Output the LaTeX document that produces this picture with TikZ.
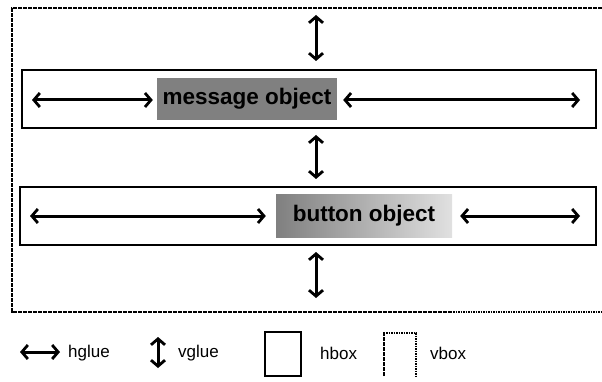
\documentclass[tikz,border=0pt]{standalone}
\usepackage{fontspec}
\setmainfont{Liberation Sans}
\usetikzlibrary{arrows.meta}
\begin{document}
\begin{tikzpicture}[x=1pt,y=-1pt,
  glue/.style={line width=3pt,{Straight Barb[length=6pt,width=14pt,line width=2.8pt]}-{Straight Barb[length=6pt,width=14pt,line width=2.8pt]}},
  hboxs/.style={draw,line width=1.1pt},
  vboxs/.style={draw,line width=2.2pt,dash pattern=on 1.6pt off 0.9pt},
  objlabel/.style={font=\bfseries\fontsize{22.5}{26}\selectfont,inner sep=0pt},
  legtext/.style={font=\fontsize{17}{20}\selectfont,anchor=west,inner sep=0pt}]
\useasboundingbox (0,0) rectangle (602,382);
% outer vbox
\draw[vboxs] (612,8) -- (12,8) -- (12,312) -- (612,312);
% message hbox
\node[hboxs,minimum width=574pt,minimum height=58pt,inner sep=0pt] (mbox) at (309,99) {};
\node[fill=black!50,minimum width=180pt,minimum height=42pt,inner sep=0pt] (msg) at (247,99) {};
\node[objlabel,text=black] at (msg) {message object};
% button hbox
\node[hboxs,minimum width=576pt,minimum height=58pt,inner sep=0pt] (bbox) at (308,216) {};
\node[left color=black!50,right color=black!12,minimum width=176pt,minimum height=42pt,inner sep=0pt] (btn) at (364,216) {};
\node[objlabel] at (btn) {button object};
% coordinates for glues
\coordinate (t1) at (316,15);
\coordinate (t2) at (316,61);
\coordinate (m1) at (316,135);
\coordinate (m2) at (316,179);
\coordinate (b1) at (316,252);
\coordinate (b2) at (316,298);
\draw[glue] (t1) -- (t2);
\draw[glue] (m1) -- (m2);
\draw[glue] (b1) -- (b2);
\coordinate (ml) at (32,100);
\coordinate (mr) at (580,100);
\draw[glue] (ml) -- ([xshift=-4pt]msg.west|-ml);
\draw[glue] ([xshift=6pt]msg.east|-mr) -- (mr);
\coordinate (bl) at (30,216);
\coordinate (br) at (580,216);
\draw[glue] (bl) -- ([xshift=-10pt]btn.west);
\draw[glue] ([xshift=8pt]btn.east) -- (br);
% legend
\coordinate (h1) at (20,352);
\coordinate (h2) at (60,352);
\draw[glue] (h1) -- (h2);
\node[legtext] (hg) at (68,353) {hglue};
\coordinate (v1) at (158,337);
\coordinate (v2) at (158,368);
\draw[glue] (v1) -- (v2);
\node[legtext] (vg) at (178,353) {vglue};
\node[hboxs,minimum width=36pt,minimum height=44pt,inner sep=0pt] (hb) at (283,354) {};
\node[legtext] (hbt) at (320,353) {hbox};
\draw[vboxs] (384,376) -- (384,333) -- (416,333) -- (416,376);
\node[legtext] (vbt) at (430,353) {vbox};
\end{tikzpicture}
\end{document}
